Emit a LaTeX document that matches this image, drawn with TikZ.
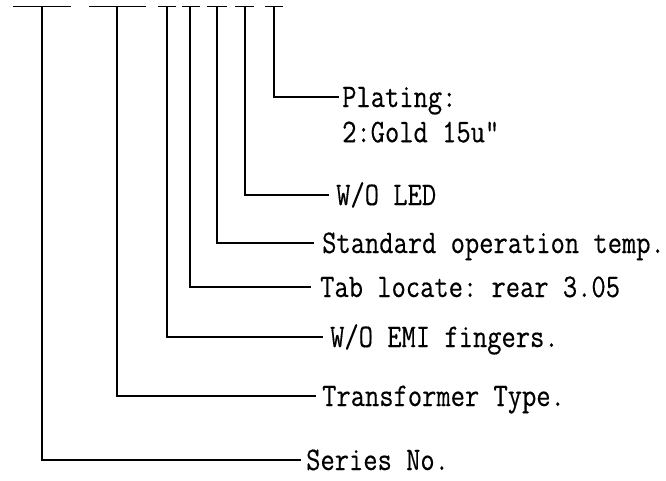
\documentclass[tikz,border=0pt]{standalone}
\usepackage{fontspec}
\setmonofont[FakeBold=0.35]{Latin Modern Mono}
\usetikzlibrary{calc}
\newcommand\nrw[1]{\scalebox{0.84}[1]{#1}}
\tikzset{
  lab/.style={anchor=west, inner sep=0pt, text height=20pt, text depth=0pt,
    font=\fontsize{33}{35}\selectfont\ttfamily},
  conn/.style={line width=1.6pt, line cap=rect},
  bar/.style={line width=1.6pt}
}
\begin{document}
\begin{tikzpicture}[x=1pt,y=1pt]
\useasboundingbox (0,0) rectangle (666,-480);
% top bars and their stem tops
\foreach \n/\l/\r/\v in {1/13/71/42, 2/89/146/117, 3/158/176/167, 4/182/200/190,
  5/207/227/217, 6/235/254/245, 7/265/283/274}{
  \coordinate (bl\n) at (\l,-6.5);
  \coordinate (br\n) at (\r,-6.5);
  \coordinate (t\n) at (\v,-6.5);
  \draw[bar] (bl\n) -- (br\n);
}
% labels
\node[lab] (plat)   at (342,-97)  {\nrw{Plating:}};
\node[lab, anchor=base west] (plat2) at ($(plat.south west)+(0,-35)$) {\nrw{2:Gold 15u\textquotedbl}};
\node[lab] (led)    at (336,-195) {\nrw{W/O LED}};
\node[lab] (std)    at (322,-243) {\nrw{Standard operation temp.}};
\node[lab] (tab)    at (320,-287) {\nrw{Tab locate: rear 3.05}};
\node[lab] (emi)    at (330,-337) {\nrw{W/O EMI fingers.}};
\node[lab] (trans)  at (322,-396) {\nrw{Transformer Type.}};
\node[lab] (series) at (306,-460) {\nrw{Series No.}};
% connectors
\draw[conn] (t7) |- ([xshift=-4pt]plat.west);
\draw[conn] (t6) |- ([xshift=-8pt]led.west);
\draw[conn] (t5) |- ([xshift=-9pt]std.west);
\draw[conn] (t4) |- ([xshift=-10pt]tab.west);
\draw[conn] (t3) |- ([xshift=-8pt]emi.west);
\draw[conn] (t2) |- ([xshift=-7pt]trans.west);
\draw[conn] (t1) |- ([xshift=-6pt]series.west);
\end{tikzpicture}
\end{document}
